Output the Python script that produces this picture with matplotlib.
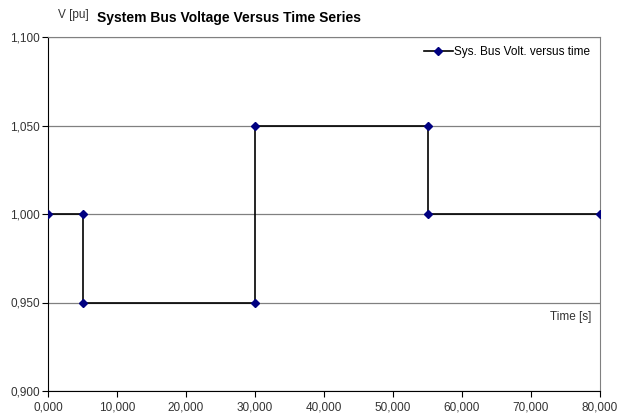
import matplotlib
matplotlib.use("Agg")
import matplotlib.pyplot as plt
from matplotlib.ticker import FuncFormatter, MultipleLocator

plt.rcParams['font.family'] = ['Liberation Sans', 'DejaVu Sans']

time_s = [0.0, 5.0, 5.0, 30.0, 30.0, 55.0, 55.0, 80.0]
voltage_pu = [1.000, 1.000, 0.950, 0.950, 1.050, 1.050, 1.000, 1.000]
series_label = "Sys. Bus Volt. versus time"
title = "System Bus Voltage Versus Time Series"

fig = plt.figure(figsize=(6.29, 4.18), dpi=100)
ax = fig.add_axes([48/629, 1-391/418, (600-48)/629, (391-37)/418])

ax.plot(time_s, voltage_pu, color='black', lw=1.2, marker='D', markersize=4.5,
        markerfacecolor='#000080', markeredgecolor='#000080', label=series_label, zorder=3)

ax.set_xlim(0, 80)
ax.set_ylim(0.9, 1.1)
ax.xaxis.set_major_locator(MultipleLocator(10))
ax.yaxis.set_major_locator(MultipleLocator(0.05))
fmt = FuncFormatter(lambda v, p: f"{v:.3f}".replace('.', ','))
ax.xaxis.set_major_formatter(fmt)
ax.yaxis.set_major_formatter(fmt)
ax.tick_params(axis='both', labelsize=8.5, length=4, width=0.8, color='black',
               direction='out', labelcolor='#333333', pad=2)
ax.tick_params(axis='x', pad=3.5)

ax.grid(axis='y', color='#808080', lw=0.9)
ax.set_axisbelow(True)
ax.spines['left'].set_color('black')
ax.spines['bottom'].set_color('black')
ax.spines['top'].set_color('#808080')
ax.spines['right'].set_color('#808080')

leg = ax.legend(loc='upper right', bbox_to_anchor=(0.993, 0.99), fontsize=8.5, frameon=False,
                borderaxespad=0, handlelength=2.5, handletextpad=0.1, borderpad=0.5)

ax.text(0.985, 0.21, "Time [s]", transform=ax.transAxes, ha='right', va='center', fontsize=8.5,
        color='#333333')
fig.text(73/629, 1-15/418, "V [pu]", ha='center', va='center', fontsize=8.5, color='#333333')
fig.text(97/629, 1-18/418, title, ha='left', va='center', fontsize=10, fontweight='bold')

fig.savefig("out.png", dpi=100)
